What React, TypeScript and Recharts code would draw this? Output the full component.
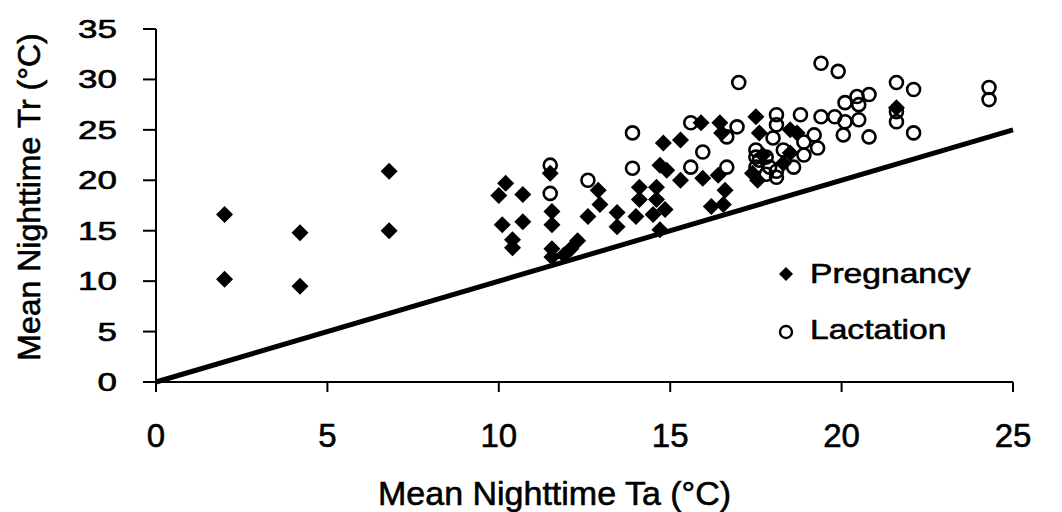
import React from 'react';
import { ScatterChart, Scatter, XAxis, YAxis, ReferenceLine, Label } from 'recharts';

// Pregnancy (filled diamonds)
const pregnancyTa = [
  2.0, 2.0, 4.2, 4.2, 6.8, 6.8, 10.2, 10.0, 10.7, 10.1, 10.7, 10.4, 10.4, 11.5, 11.55,
  11.55, 11.55, 11.55, 11.9, 12.1, 12.3, 12.6, 12.9, 12.95, 13.45, 13.45, 14.1, 14.6,
  14.1, 14.6, 14.0, 14.5, 14.85, 14.7, 14.8, 14.7, 14.9, 15.3, 15.9, 15.3, 15.95, 16.4,
  16.6, 16.2, 16.55, 16.45, 16.5, 17.5, 17.6, 17.55, 17.4, 18.5, 18.7, 18.5, 18.3, 21.6,
  17.7,
];
const pregnancyTr = [
  16.6, 10.2, 14.8, 9.5, 20.9, 15.0, 19.7, 18.5, 18.6, 15.6, 15.9, 14.1, 13.3, 20.7, 16.9,
  15.6, 13.2, 12.4, 12.6, 13.2, 14.0, 16.4, 19.0, 17.6, 16.8, 15.4, 19.3, 19.3,
  18.1, 18.1, 16.4, 16.6, 17.1, 15.1, 23.7, 21.5, 21.0, 24.0, 25.7, 20.0, 20.2, 20.5,
  19.0, 17.4, 17.6, 25.7, 24.7, 26.3, 24.7, 20.0, 20.7, 25.0, 24.7, 22.7, 21.7, 27.2,
  22.5,
];

// Lactation (open circles)
const lactationTa = [
  11.5, 11.5, 12.6, 13.9, 13.9, 15.6, 15.95, 15.6, 16.65, 16.95, 16.65, 17.0, 17.5, 17.6,
  18.1, 18.8, 19.4, 18.1, 18.9, 19.2, 19.3, 18.9, 18.6, 17.5, 17.8, 17.5, 17.9, 18.1, 17.8,
  18.1, 19.4, 19.9, 21.6, 22.1, 21.6, 21.6, 22.1, 20.8, 20.45, 20.1, 20.5, 19.8, 20.1,
  20.5, 20.05, 20.8, 24.3, 24.3, 18.3, 18.0,
];
const lactationTr = [
  21.5, 18.7, 20.0, 24.7, 21.2, 25.7, 22.8, 21.3, 24.3, 25.3, 21.3, 29.7, 23.0, 22.0,
  26.5, 26.5, 26.3, 25.5, 23.8, 24.5, 23.2, 22.5, 21.3, 22.3, 22.3, 21.3, 21.3, 20.9, 20.6,
  20.3, 31.6, 30.8, 29.7, 29.0, 26.8, 25.8, 24.7, 28.5, 28.3, 27.7, 27.5, 26.3, 25.8,
  26.0, 24.5, 24.3, 29.2, 28.0, 23.0, 24.2,
];

const xTicks = [0, 5, 10, 15, 20, 25];
const yTicks = [0, 5, 10, 15, 20, 25, 30, 35];

const pregnancy = pregnancyTa.map((x, i) => ({ x, y: pregnancyTr[i] }));
const lactation = lactationTa.map((x, i) => ({ x, y: lactationTr[i] }));

const FONT = '"Liberation Sans", Arial, sans-serif';
// the scanned text looks heavy, so give every label a thin outline
const heavy = { stroke: '#000', strokeWidth: 0.6 };

const Diamond = (props: any) => {
  const { cx, cy } = props;
  const s = 8.5;
  return (
    <polygon
      points={`${cx},${cy - s} ${cx + s},${cy} ${cx},${cy + s} ${cx - s},${cy}`}
      fill="#000"
    />
  );
};

const Ring = (props: any) => {
  const { cx, cy } = props;
  return <circle cx={cx} cy={cy} r={6.5} fill="none" stroke="#000" strokeWidth={2.6} />;
};

const YTick = (props: any) => {
  const { x, y, payload } = props;
  return (
    <text
      transform={`translate(${x},${y}) scale(1.4,1)`}
      x={0}
      y={0}
      dy="0.36em"
      textAnchor="end"
      fontSize={25}
      fontFamily={FONT}
      fill="#000"
      {...heavy}
    >
      {payload.value}
    </text>
  );
};

const YTitle = () => (
  <text
    transform="translate(40,197) rotate(-90)"
    textAnchor="middle"
    fontSize={32}
    fontFamily={FONT}
    fill="#000"
    {...heavy}
  >
    Mean Nighttime Tr (°C)
  </text>
);

const XTitle = () => (
  <text x={378} y={505} textAnchor="start" fontSize={34} fontFamily={FONT} fill="#000" {...heavy}>
    Mean Nighttime Ta (°C)
  </text>
);

export default function App() {
  return (
    <div style={{ position: 'absolute', left: 0, top: 0, width: 1062, height: 512, background: '#fff' }}>
      <ScatterChart width={1062} height={512} margin={{ top: 29, right: 49, bottom: 0, left: 0 }}>
        <XAxis
          type="number"
          dataKey="x"
          domain={[0, 25]}
          ticks={xTicks}
          height={130}
          tickSize={10}
          tickMargin={32}
          stroke="#000"
          strokeWidth={2}
          tick={{ fill: '#000', fontSize: 33, fontFamily: FONT, ...heavy }}
        >
          <Label content={<XTitle />} />
        </XAxis>
        <YAxis
          type="number"
          dataKey="y"
          domain={[0, 35]}
          ticks={yTicks}
          width={156}
          tickSize={13}
          tickMargin={26}
          stroke="#000"
          strokeWidth={2}
          tick={<YTick />}
        >
          <Label content={<YTitle />} />
        </YAxis>
        <ReferenceLine
          segment={[{ x: 0, y: 0 }, { x: 25, y: 25 }]}
          stroke="#000"
          strokeWidth={5}
        />
        <Scatter data={pregnancy} shape={Diamond} isAnimationActive={false} />
        <Scatter data={lactation} shape={Ring} isAnimationActive={false} />
      </ScatterChart>
      <div
        style={{
          position: 'absolute',
          left: 775,
          top: 254,
          fontFamily: FONT,
          fontSize: 28,
          color: '#000',
          WebkitTextStroke: '0.6px #000',
        }}
      >
        <div style={{ display: 'flex', alignItems: 'center', height: 40 }}>
          <svg width={22} height={22}>
            <polygon points="11,4 18,11 11,18 4,11" fill="#000" />
          </svg>
          <span style={{ marginLeft: 13, display: 'inline-block', transform: 'scaleX(1.2)', transformOrigin: 'left center' }}>
            Pregnancy
          </span>
        </div>
        <div style={{ display: 'flex', alignItems: 'center', height: 40, marginTop: 16 }}>
          <svg width={22} height={22}>
            <circle cx={11} cy={13} r={6} fill="none" stroke="#000" strokeWidth={2.4} />
          </svg>
          <span style={{ marginLeft: 13, display: 'inline-block', transform: 'scaleX(1.2)', transformOrigin: 'left center' }}>
            Lactation
          </span>
        </div>
      </div>
    </div>
  );
}
